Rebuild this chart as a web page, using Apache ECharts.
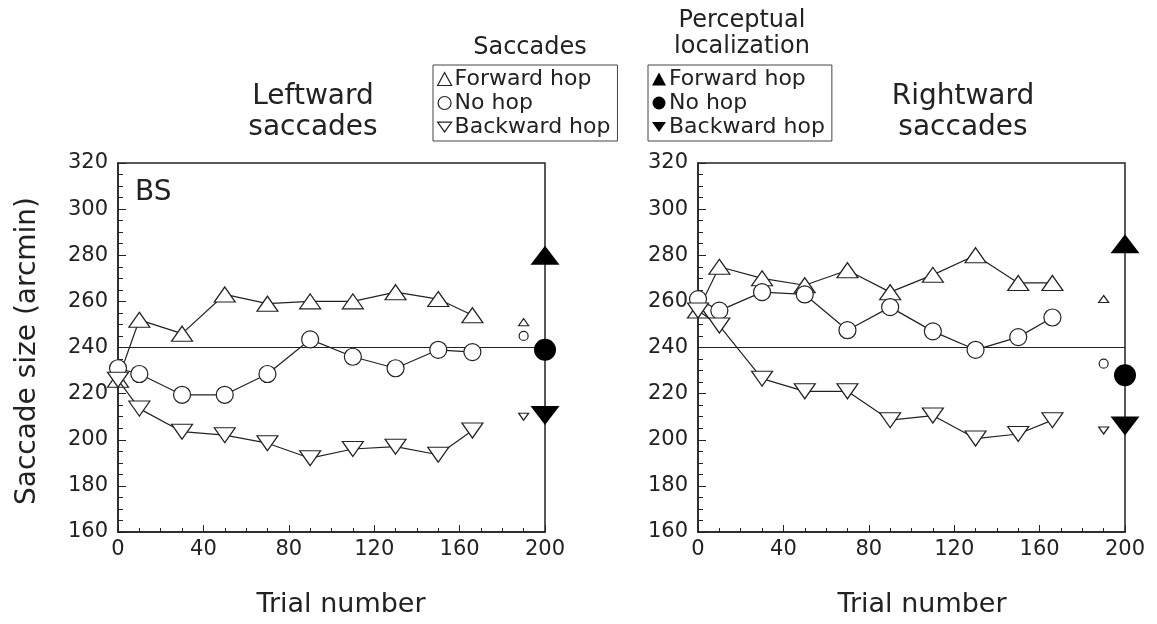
<!DOCTYPE html>
<html>
<head>
<meta charset="utf-8">
<script src="https://cdn.jsdelivr.net/npm/echarts@6/dist/echarts.min.js"></script>
<style>html,body{margin:0;padding:0;background:#fff}#c{width:1157px;height:624px}</style>
</head>
<body>
<div id="c"></div>
<script>
// ---- data ----
const trials = [0, 10, 30, 50, 70, 90, 110, 130, 150, 166];
const leftForward  = [226, 252, 246, 263, 259, 260, 260, 264, 261, 254];
const leftNoHop    = [231, 228.5, 219.5, 219.5, 228.5, 243.5, 236, 231, 239, 238];
const leftBackward = [226, 213.5, 203.5, 202, 198.5, 192, 196, 197, 193.5, 204];
const rightForward  = [256, 275, 270, 267, 273.5, 264, 271.5, 280, 268, 268];
const rightNoHop    = [261, 256, 264, 263, 247.5, 257.5, 247, 239, 244.5, 253];
const rightBackward = [256, 249.5, 226.5, 221, 221, 208.5, 210.5, 200.5, 202.5, 208.5];
// small open markers at trial 190: [forward, no hop, backward]
const smallX = 190;
const leftSmall  = [251, 245, 210];
const rightSmall = [261, 233, 204];
// perceptual localization at trial 200: [forward, no hop, backward]
const percX = 200;
const leftPerc  = [280, 239, 210.5];
const rightPerc = [285, 228, 206];
const referenceLevel = 240;
const xTicks = [0, 40, 80, 120, 160, 200];
const yTicks = [160, 180, 200, 220, 240, 260, 280, 300, 320];

const saccNames = ['Forward hop', 'No hop', 'Backward hop'];
const percNames = ['P: Forward hop', 'P: No hop', 'P: Backward hop'];

// ---- styling ----
const FONT = '"DejaVu Sans", "Liberation Sans", sans-serif';
const TXT = '#222';
const INK = '#222';
const openStyle = {color: '#fff', borderColor: INK, borderWidth: 1.2, opacity: 1};
const symOpen = [
  {symbol: 'triangle', size: [21, 15], rotate: 0},
  {symbol: 'circle', size: 17, rotate: 0},
  {symbol: 'triangle', size: [21, 15], rotate: 180}
];
const symSmall = [
  {symbol: 'triangle', size: [10, 7], rotate: 0},
  {symbol: 'circle', size: 9, rotate: 0},
  {symbol: 'triangle', size: [10, 7], rotate: 180}
];
const symBig = [
  {symbol: 'triangle', size: [29, 19], rotate: 0},
  {symbol: 'circle', size: 22, rotate: 0},
  {symbol: 'triangle', size: [29, 19], rotate: 180}
];

function mkX(gi) {
  return {
    type: 'value', gridIndex: gi, min: 0, max: 200, interval: 40,
    axisLine: {show: true, onZero: false, lineStyle: {color: INK, width: 1.5}},
    axisTick: {show: true, inside: true, length: 7, lineStyle: {color: INK, width: 1}},
    minorTick: {show: true, splitNumber: 4, length: 4, lineStyle: {color: INK, width: 1}},
    splitLine: {show: false},
    axisLabel: {margin: 7, color: TXT, fontSize: 21, fontFamily: FONT,
      formatter: v => xTicks.includes(v) ? String(v) : ''}
  };
}
function mkY(gi) {
  return {
    type: 'value', gridIndex: gi, min: 160, max: 320, interval: 20,
    axisLine: {show: true, onZero: false, lineStyle: {color: INK, width: 1.5}},
    axisTick: {show: true, inside: true, length: 8, lineStyle: {color: INK, width: 1}},
    minorTick: {show: true, splitNumber: 4, length: 5, lineStyle: {color: INK, width: 1}},
    splitLine: {show: false},
    axisLabel: {margin: 10, color: TXT, fontSize: 21, fontFamily: FONT,
      formatter: v => yTicks.includes(v) ? String(v) : ''}
  };
}

function lineSeries(gi, name, vals, k) {
  return {
    type: 'line', name: name, xAxisIndex: gi, yAxisIndex: gi,
    data: trials.map((t, i) => [t, vals[i]]),
    symbol: symOpen[k].symbol, symbolSize: symOpen[k].size, symbolRotate: symOpen[k].rotate,
    showAllSymbol: true,
    itemStyle: openStyle,
    lineStyle: {color: INK, width: 1.2},
    z: 3 + k, silent: true
  };
}
function pointSeries(gi, name, x, v, s, filled) {
  return {
    type: 'scatter', name: name, xAxisIndex: gi, yAxisIndex: gi,
    data: [[x, v]], symbol: s.symbol, symbolSize: s.size, symbolRotate: s.rotate,
    itemStyle: filled ? {color: '#000', borderColor: '#000', borderWidth: 0, opacity: 1}
                      : {color: '#fff', borderColor: INK, borderWidth: 1.2, opacity: 1},
    z: 10, silent: true
  };
}

const series = [];
[[leftForward, leftNoHop, leftBackward, leftSmall, leftPerc],
 [rightForward, rightNoHop, rightBackward, rightSmall, rightPerc]].forEach((g, gi) => {
  series.push({
    type: 'line', name: 'reference', xAxisIndex: gi, yAxisIndex: gi,
    data: [[0, referenceLevel], [200, referenceLevel]], symbol: 'none',
    lineStyle: {color: INK, width: 1.2}, z: 1, silent: true
  });
  for (let k = 0; k < 3; k++) series.push(lineSeries(gi, saccNames[k], g[k], k));
  for (let k = 0; k < 3; k++) series.push(pointSeries(gi, saccNames[k], smallX, g[3][k], symSmall[k], false));
  for (let k = 0; k < 3; k++) series.push(pointSeries(gi, percNames[k], percX, g[4][k], symBig[k], true));
});

const downPath = 'path://M0,0L20,0L10,14Z';
const legendCommon = {
  orient: 'vertical', top: 65, selectedMode: false,
  backgroundColor: '#fff', borderColor: '#444', borderWidth: 1,
  padding: [3, 7, 3, 4], itemGap: 2, itemWidth: 14, itemHeight: 13,
  textStyle: {fontSize: 22, fontFamily: FONT, color: TXT, padding: [0, 0, 0, -2]},
  formatter: n => n.replace(/^P: /, '')
};

const option = {
  animation: false,
  backgroundColor: '#fff',
  grid: [
    {left: 118, top: 163, width: 427, height: 369, show: true, borderColor: INK, borderWidth: 1.5, backgroundColor: 'transparent'},
    {left: 698, top: 163, width: 427, height: 369, show: true, borderColor: INK, borderWidth: 1.5, backgroundColor: 'transparent'}
  ],
  xAxis: [mkX(0), mkX(1)],
  yAxis: [mkY(0), mkY(1)],
  legend: [
    Object.assign({}, legendCommon, {
      left: 433,
      data: [
        {name: saccNames[0], icon: 'triangle', itemStyle: {color: '#fff', borderColor: INK, borderWidth: 1.2}},
        {name: saccNames[1], icon: 'circle', itemStyle: {color: '#fff', borderColor: INK, borderWidth: 1.2}},
        {name: saccNames[2], icon: downPath, itemStyle: {color: '#fff', borderColor: INK, borderWidth: 1.2}}
      ]
    }),
    Object.assign({}, legendCommon, {
      left: 648,
      data: [
        {name: percNames[0], icon: 'triangle', itemStyle: {color: '#000', borderWidth: 0}},
        {name: percNames[1], icon: 'circle', itemStyle: {color: '#000', borderWidth: 0}},
        {name: percNames[2], icon: downPath, itemStyle: {color: '#000', borderWidth: 0}}
      ]
    })
  ],
  graphic: [
    {type: 'text', x: 530, y: 48, style: {text: 'Saccades', fontSize: 24, fontFamily: FONT, fill: TXT, align: 'center', verticalAlign: 'middle'}},
    {type: 'text', x: 742, y: 21, style: {text: 'Perceptual', fontSize: 24, fontFamily: FONT, fill: TXT, align: 'center', verticalAlign: 'middle'}},
    {type: 'text', x: 742, y: 47, style: {text: 'localization', fontSize: 24, fontFamily: FONT, fill: TXT, align: 'center', verticalAlign: 'middle'}},
    {type: 'text', x: 313, y: 97, style: {text: 'Leftward', fontSize: 28, fontFamily: FONT, fill: TXT, align: 'center', verticalAlign: 'middle'}},
    {type: 'text', x: 313, y: 128, style: {text: 'saccades', fontSize: 28, fontFamily: FONT, fill: TXT, align: 'center', verticalAlign: 'middle'}},
    {type: 'text', x: 963, y: 97, style: {text: 'Rightward', fontSize: 28, fontFamily: FONT, fill: TXT, align: 'center', verticalAlign: 'middle'}},
    {type: 'text', x: 963, y: 128, style: {text: 'saccades', fontSize: 28, fontFamily: FONT, fill: TXT, align: 'center', verticalAlign: 'middle'}},
    {type: 'text', x: 135, y: 193, style: {text: 'BS', fontSize: 28, fontFamily: FONT, fill: TXT, align: 'left', verticalAlign: 'middle'}},
    {type: 'text', x: 341, y: 605, style: {text: 'Trial number', fontSize: 27, fontFamily: FONT, fill: TXT, align: 'center', verticalAlign: 'middle'}},
    {type: 'text', x: 922, y: 605, style: {text: 'Trial number', fontSize: 27, fontFamily: FONT, fill: TXT, align: 'center', verticalAlign: 'middle'}},
    {type: 'text', x: 28, y: 351, rotation: Math.PI / 2, style: {text: 'Saccade size (arcmin)', fontSize: 28, fontFamily: FONT, fill: TXT, align: 'center', verticalAlign: 'middle'}}
  ],
  series: series
};

const chart = echarts.init(document.getElementById('c'), null, {renderer: 'canvas'});
chart.setOption(option);
</script>
</body>
</html>
